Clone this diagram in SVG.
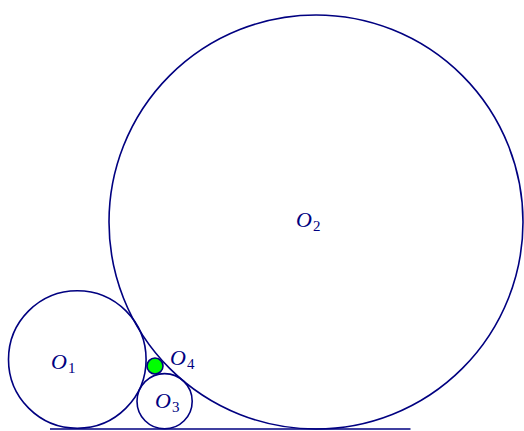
<svg xmlns="http://www.w3.org/2000/svg" width="524" height="431" viewBox="0 0 524 431">
<style>
.c{fill:none;stroke:#000080;stroke-width:1.6}
.g{fill:#00ff00;stroke:#000080;stroke-width:1.6}
.t{font-family:"Liberation Serif",serif;font-style:italic;font-size:22px;fill:#000080}
.s{font-style:normal;font-size:15px}
</style>
<rect width="524" height="431" fill="#fff"/>
<g id="connectors">
<line class="c" x1="50" y1="429" x2="410.5" y2="429"/>
</g>
<g id="O2">
<circle class="c" cx="316" cy="222" r="207"/>
<text class="t" x="296" y="227">O<tspan class="s" dx="1" dy="4">2</tspan></text>
</g>
<g id="O1">
<circle class="c" cx="77.3" cy="359.5" r="68.8"/>
<text class="t" x="51" y="369">O<tspan class="s" dx="1" dy="4">1</tspan></text>
</g>
<g id="O3">
<circle class="c" cx="164.6" cy="401.2" r="27.6"/>
<text class="t" x="155" y="408">O<tspan class="s" dx="1" dy="4">3</tspan></text>
</g>
<g id="O4">
<circle class="g" cx="155" cy="366" r="8"/>
<text class="t" x="170" y="365">O<tspan class="s" dx="1" dy="4">4</tspan></text>
</g>
</svg>
